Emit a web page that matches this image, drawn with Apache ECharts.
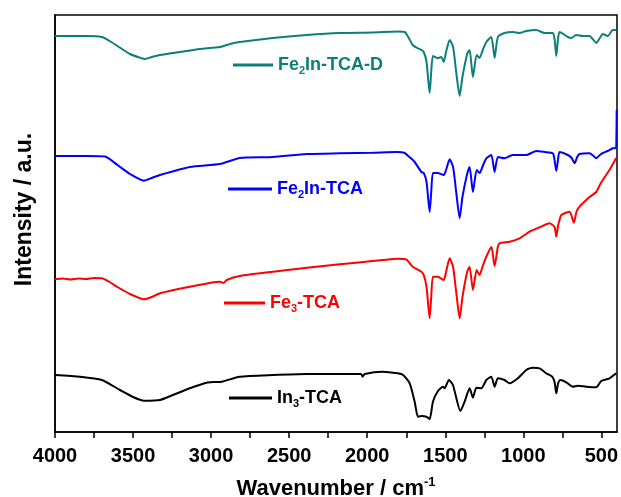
<!DOCTYPE html>
<html>
<head>
<meta charset="utf-8">
<script src="https://cdn.jsdelivr.net/npm/echarts@6/dist/echarts.min.js"></script>
<style>
  html, body { margin: 0; padding: 0; background: #fff; }
  #ftir { width: 621px; height: 497px; }
</style>
</head>
<body>
<div id="ftir"></div>
<script>
// wavenumbers (cm-1) and intensities (a.u., offset per trace)
var tealWn = [4000, 3900, 3800, 3700, 3650, 3600, 3520, 3450, 3424, 3380, 3328, 3200, 3072, 2944, 2880, 2816, 2605, 2387, 2176, 1965, 1805, 1760, 1730, 1709, 1680, 1653, 1638, 1620, 1600, 1590, 1579, 1549, 1525, 1510, 1495, 1472, 1450, 1430, 1408, 1390, 1360, 1344, 1323, 1299, 1280, 1260, 1237, 1205, 1184, 1163, 1120, 1067, 1024, 981, 917, 864, 811, 800, 789, 778, 768, 715, 693, 661, 619, 576, 550, 533, 510, 491, 459, 427, 404];
var tealVal = [396, 396, 396, 395, 391, 386, 378, 374, 373, 375, 377, 380, 383, 385, 388, 390, 394, 397, 399, 399.5, 400.5, 400, 393, 387, 384, 382, 380, 370, 339, 360, 376, 374, 375, 370, 380, 392, 385, 360, 336, 355, 378, 382, 355, 377, 374, 382, 390, 395, 374, 395, 399, 400, 399, 401, 402, 399, 399, 393, 376, 393, 400, 395, 394, 397, 396, 396, 392, 389, 394, 398, 396, 402, 402];

var blueWn = [4000, 3900, 3800, 3680, 3600, 3520, 3430, 3380, 3328, 3136, 2944, 2816, 2605, 2387, 2176, 1965, 1805, 1760, 1730, 1696, 1653, 1638, 1620, 1600, 1590, 1579, 1549, 1510, 1495, 1472, 1450, 1430, 1408, 1390, 1360, 1344, 1323, 1299, 1280, 1260, 1237, 1205, 1184, 1163, 1120, 1070, 981, 917, 864, 811, 800, 789, 778, 768, 715, 690, 672, 655, 640, 576, 550, 533, 510, 491, 459, 427, 410, 405, 402];
var blueVal = [276, 276, 276, 275.5, 267, 258, 251.3, 254, 257, 265, 268, 274, 275, 278, 278.7, 279.3, 280, 279, 275, 270, 260, 259, 250, 220, 240, 259, 259, 257, 262, 272.7, 265, 240, 213.7, 235, 258, 265, 240, 262, 259, 266, 273.7, 277, 260, 275, 273.7, 277, 277, 281, 280, 278.7, 272, 261, 272, 280, 277, 274, 268.7, 275, 278, 278.7, 276, 273.7, 277, 279, 281, 283.7, 284, 285, 322];

var redWn = [4000, 3950, 3900, 3850, 3800, 3750, 3700, 3650, 3600, 3520, 3430, 3380, 3328, 3136, 2944, 2920, 2900, 2816, 2605, 2387, 2176, 1965, 1900, 1805, 1750, 1709, 1653, 1638, 1620, 1600, 1590, 1579, 1549, 1510, 1495, 1472, 1450, 1430, 1408, 1390, 1360, 1344, 1323, 1299, 1280, 1260, 1237, 1205, 1184, 1163, 1152, 1088, 1024, 960, 896, 832, 800, 789, 778, 768, 757, 704, 676, 660, 640, 576, 533, 510, 491, 448, 405];
var redVal = [152.7, 153.5, 152.5, 153.5, 153, 154, 153.7, 150, 145, 138, 132.7, 135, 138.7, 145.3, 150.3, 149, 152, 156, 160.3, 164.3, 167.7, 171, 172, 173.3, 172.7, 165.3, 160.3, 157, 145, 113.7, 135, 155.3, 155.3, 152, 160, 173.7, 165, 140, 113.7, 135, 160, 165.3, 142, 162, 157, 166, 175.3, 185.3, 166, 185.3, 188.7, 190.3, 193.7, 200.3, 204.7, 208.7, 205, 195.3, 206, 212, 217, 220.3, 209.3, 220, 225.3, 235, 240, 247, 252, 262, 274];

var blackWn = [4000, 3840, 3700, 3584, 3500, 3430, 3328, 3245, 3136, 3029, 2980, 2933, 2816, 2605, 2387, 2176, 2040, 2030, 2016, 1900, 1805, 1770, 1728, 1696, 1675, 1653, 1621, 1600, 1579, 1547, 1515, 1504, 1477, 1451, 1403, 1376, 1344, 1323, 1301, 1269, 1237, 1205, 1184, 1163, 1120, 1088, 1035, 981, 939, 896, 853, 815, 800, 789, 778, 764, 725, 683, 651, 597, 533, 501, 448, 405];
var blackVal = [57, 55.3, 52, 42, 35, 31.3, 32, 37, 43.7, 49.3, 50, 50.3, 55.3, 57, 58, 58, 58, 55.3, 58, 60.3, 58.7, 57, 48.7, 30.3, 15.3, 16, 15.3, 13, 30.3, 41, 45.3, 43.7, 52, 47, 21, 30.3, 43.7, 34.3, 44.3, 43.7, 52, 55.3, 45.3, 53.7, 52, 48.7, 53.7, 62, 64.3, 63.7, 58.7, 55.3, 50, 38.7, 48, 52, 49.7, 45.3, 46.3, 45.3, 44.7, 51, 53.7, 58.7];

var labelTicks = [4000, 3500, 3000, 2500, 2000, 1500, 1000, 500];
var minorTicks = [4000, 3750, 3500, 3250, 3000, 2750, 2500, 2250, 2000, 1750, 1500, 1250, 1000, 750, 500];

var names = ['Fe2In-TCA-D', 'Fe2In-TCA', 'Fe3-TCA', 'In3-TCA'];
var labelRich = ['{n|Fe}{s|2}{n|In-TCA-D}', '{n|Fe}{s|2}{n|In-TCA}', '{n|Fe}{s|3}{n|-TCA}', '{n|In}{s|3}{n|-TCA}'];
var colors = ['#0b7f7a', '#0000ff', '#ff0000', '#000000'];

var font = "'Liberation Sans', Arial, sans-serif";

function pairs(wn, val) {
    var out = [];
    for (var i = 0; i < wn.length; i++) out.push([wn[i], val[i]]);
    return out;
}
var allData = [pairs(tealWn, tealVal), pairs(blueWn, blueVal), pairs(redWn, redVal), pairs(blackWn, blackVal)];

// one little legend per trace, placed next to it
var legendPos = [
    { left: 233, top: 54, w: 40 },
    { left: 228, top: 178, w: 44 },
    { left: 224, top: 292, w: 41 },
    { left: 229, top: 387, w: 43 }
];

var dom = document.getElementById('ftir');
var myChart = echarts.init(dom);

var legends = [];
var series = [];
for (var k = 0; k < names.length; k++) {
    (function (k) {
        legends.push({
            data: [names[k]],
            left: legendPos[k].left,
            top: legendPos[k].top,
            padding: 0,
            icon: 'rect',
            itemWidth: legendPos[k].w,
            itemHeight: 3,
            selectedMode: false,
            formatter: function () { return labelRich[k]; },
            textStyle: {
                rich: {
                    n: { fontFamily: font, fontSize: 18, fontWeight: 'bold', color: colors[k], lineHeight: 22 },
                    s: { fontFamily: font, fontSize: 11, fontWeight: 'bold', color: colors[k], lineHeight: 22, verticalAlign: 'bottom', padding: [11, 0, 0, 0] }
                }
            }
        });
    })(k);
    series.push({
        name: names[k],
        type: 'line',
        data: allData[k],
        showSymbol: false,
        symbol: 'none',
        smooth: 0.2,
        lineStyle: { color: colors[k], width: 2 },
        itemStyle: { color: colors[k] }
    });
}

var option = {
    animation: false,
    backgroundColor: '#fff',
    grid: {
        left: 55, right: 4, top: 15, bottom: 65,
        outerBoundsMode: 'none',
        show: true, borderColor: '#000', borderWidth: 1.5
    },
    legend: legends,
    xAxis: {
        type: 'value',
        inverse: true,
        min: 400,
        max: 4000,
        name: 'Wavenumber / cm{sup|-1}',
        nameLocation: 'middle',
        nameGap: 44,
        nameTextStyle: {
            fontFamily: font, fontSize: 22, fontWeight: 'bold', color: '#000',
            rich: {
                sup: { fontFamily: font, fontSize: 13, fontWeight: 'bold', color: '#000', verticalAlign: 'top', padding: [0, 0, 12, 0] }
            }
        },
        axisLine: { show: true, lineStyle: { color: '#000', width: 1.5 } },
        axisTick: { show: true, inside: false, length: 6, lineStyle: { color: '#000', width: 1.5 }, customValues: minorTicks },
        axisLabel: {
            customValues: labelTicks, margin: 14,
            fontFamily: font, fontSize: 20, fontWeight: 'bold', color: '#000',
            formatter: function (v) { return String(v); }
        },
        splitLine: { show: false }
    },
    yAxis: {
        type: 'value',
        min: 0,
        max: 417,
        name: 'Intensity / a.u.',
        nameLocation: 'middle',
        nameGap: 19,
        nameTextStyle: { fontFamily: font, fontSize: 23, fontWeight: 'bold', color: '#000', padding: [0, 0, 0, 28] },
        axisLine: { show: true, lineStyle: { color: '#000', width: 1.5 } },
        axisTick: { show: false },
        axisLabel: { show: false },
        splitLine: { show: false }
    },
    series: series
};

if (option && typeof option === "object") {
    myChart.setOption(option, true);
    window.onresize = function () {
        myChart.resize();
    };
}
</script>
</body>
</html>
